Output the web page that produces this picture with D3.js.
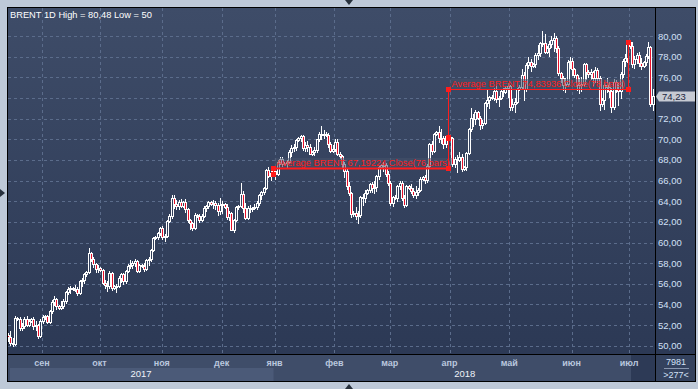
<!DOCTYPE html>
<html><head><meta charset="utf-8">
<script src="https://cdn.jsdelivr.net/npm/d3@7"></script>
<style>
html,body{margin:0;padding:0;background:#bec9d8;overflow:hidden;}
svg{display:block;}
text{font-family:"Liberation Sans",Arial,sans-serif;}
</style></head><body>
<svg id="c" width="698" height="389"></svg>
<script>
// ---------- data ----------
const startDate = "2017-08-15", endDate = "2018-07-12";
const holidays = ["2017-12-24","2017-12-25","2017-12-31","2018-01-01"];
const opens = [
51.0,50.8,50.3,50.2,52.7,52.6,51.7,51.9,52.6,52.0,52.4,52.6,51.9,52.0,50.9,
52.4,52.8,52.9,52.3,53.4,54.2,54.5,53.8,53.7,53.8,54.3,55.2,55.5,55.6,55.5,55.5,55.1,56.3,56.4,56.9,57.1,59.0,58.4,57.9,57.4,
57.5,57.3,56.1,55.9,55.8,57.0,55.6,55.8,55.8,56.6,56.9,56.3,57.2,57.7,57.8,58.0,58.2,57.2,57.8,57.7,57.4,58.3,58.4,59.3,60.4,60.5,60.9,
61.4,60.5,60.6,62.1,62.6,64.3,63.7,63.5,63.9,63.5,63.9,63.2,62.2,61.9,61.4,62.7,62.6,62.2,62.6,63.3,63.5,63.9,63.7,63.8,63.6,63.1,
63.6,63.7,63.4,62.5,62.9,61.2,62.2,63.4,63.5,64.7,63.3,62.4,63.3,63.2,63.3,63.4,63.8,64.6,64.9,65.3,67.0,66.4,66.7,
66.9,66.6,67.8,68.1,67.6,67.7,67.8,68.8,69.2,69.3,69.9,70.1,70.3,69.2,69.4,69.3,68.6,68.8,69.0,70.0,70.5,70.4,70.5,70.4,69.5,68.9,
69.1,69.7,68.6,68.4,67.6,66.9,65.5,64.8,62.8,62.9,62.6,62.7,64.4,64.3,64.8,65.1,65.7,65.3,65.4,66.4,67.3,67.5,67.5,66.6,
65.8,63.8,64.4,64.3,65.5,65.8,64.3,63.6,65.5,65.3,65.0,64.6,64.9,65.1,66.2,66.3,66.1,67.4,69.5,68.9,70.5,70.7,70.1,70.1,69.5,70.3,
70.2,70.1,67.6,68.1,68.0,68.3,67.1,67.3,68.7,71.0,72.1,72.0,72.6,72.1,71.4,71.6,73.5,73.8,74.1,74.0,74.7,73.9,74.0,74.7,74.6,75.0,
75.2,73.1,73.4,73.6,74.9,75.1,76.2,74.9,77.2,77.5,77.1,77.3,78.2,78.4,79.3,79.3,78.5,78.8,79.2,79.6,79.8,78.8,76.4,75.9,75.3,75.4,77.5,
77.6,76.8,76.2,75.3,75.4,75.4,77.3,76.5,76.3,76.5,75.9,76.7,75.9,73.4,73.8,75.3,75.1,74.7,73.1,75.6,74.9,74.7,76.3,77.6,77.9,
79.4,79.0,77.3,77.8,78.2,77.4,77.1,77.5,78.1,78.9,73.4];
const highs = [
51.2,51.4,50.7,52.9,52.8,52.8,52.2,52.8,52.9,52.6,52.7,52.8,52.4,52.1,52.6,
53.0,53.0,53.0,53.5,54.4,54.8,54.6,53.9,54.3,54.5,55.3,55.7,55.8,55.7,55.9,55.7,56.4,56.6,57.0,57.2,59.5,59.1,58.6,58.0,57.8,
57.6,57.4,56.4,56.3,57.2,57.1,55.9,56.0,56.8,57.0,57.0,57.3,57.9,58.3,58.2,58.4,58.3,57.9,57.9,58.0,58.4,58.6,59.4,60.5,60.6,61.0,61.5,
61.6,60.8,62.2,62.8,64.6,64.6,64.1,64.1,64.2,64.0,64.2,63.3,62.3,62.0,62.9,62.8,62.8,62.8,63.5,63.6,64.0,64.0,64.1,64.0,63.8,64.3,
64.0,63.8,63.7,63.1,63.0,62.3,63.5,63.6,65.8,65.0,63.8,63.5,63.6,63.4,63.7,64.0,64.7,65.0,65.4,67.1,67.3,66.9,67.0,
67.3,68.0,68.3,68.3,67.8,68.0,69.0,69.4,69.5,70.0,70.2,70.4,70.4,69.7,69.8,69.5,68.9,69.3,70.0,70.7,71.3,70.9,70.7,70.6,69.7,69.4,
70.0,70.0,68.8,68.5,67.8,67.2,65.9,64.9,63.1,63.4,63.1,64.5,64.7,65.1,65.2,65.8,65.9,66.0,66.5,67.4,67.6,67.8,67.7,66.9,
66.0,64.5,64.6,65.6,66.0,66.0,64.6,65.6,65.6,65.7,65.3,65.5,65.3,66.3,66.4,66.5,67.6,69.6,69.8,70.6,70.8,71.3,71.0,70.3,70.4,70.3,
70.3,70.2,68.3,68.5,68.8,68.6,67.4,68.8,71.1,73.0,72.5,72.8,72.7,72.3,71.9,73.6,74.8,74.2,74.3,75.0,75.2,74.2,74.9,75.0,75.2,75.5,
75.3,73.9,74.0,75.0,75.3,76.8,76.5,77.4,78.0,77.8,77.4,78.4,79.1,79.4,80.48,80.2,79.0,79.5,80.0,80.3,80.0,79.0,76.5,76.1,75.9,77.7,78.0,
77.9,76.9,76.3,75.9,76.0,77.4,77.4,76.7,76.8,76.6,77.0,76.9,76.1,74.0,75.6,75.9,75.6,75.0,75.8,75.7,75.5,76.5,77.8,78.3,79.6,
79.5,79.4,78.1,78.4,78.5,77.9,77.6,78.3,79.4,79.0,74.9];
const lows = [
50.5,50.1,50.0,50.1,52.5,51.5,51.5,51.7,51.9,51.9,52.3,51.6,51.5,50.7,50.8,
52.2,52.6,52.2,52.2,53.2,53.9,53.6,53.6,53.6,53.7,54.1,55.0,55.1,55.4,55.3,54.9,55.0,55.8,56.1,56.8,57.0,58.2,57.6,57.1,57.1,
57.2,56.0,55.6,55.3,55.6,55.4,55.5,55.2,55.7,56.2,56.0,56.1,57.1,57.5,57.5,57.7,57.1,57.1,57.6,57.2,57.3,57.8,58.2,59.2,60.3,60.3,60.7,
60.3,60.1,60.5,62.0,62.4,63.3,63.2,63.2,63.4,63.4,63.0,62.0,61.3,61.2,61.3,62.5,62.0,62.1,62.5,63.1,63.3,63.6,63.3,63.2,62.7,62.8,
62.9,63.3,62.3,62.2,61.2,61.0,62.1,63.2,63.4,63.0,62.3,62.3,63.0,63.1,63.2,63.2,63.6,64.2,64.7,65.2,66.3,66.1,66.5,
66.2,66.5,67.6,67.4,67.5,67.2,67.7,68.4,68.9,69.0,69.8,69.8,69.0,68.9,68.9,68.6,68.5,68.5,68.8,69.8,70.0,70.1,70.3,69.3,68.8,68.8,
68.9,68.5,68.2,67.3,66.3,65.2,64.6,62.5,62.6,62.3,61.9,62.5,63.6,63.9,64.7,64.9,64.9,64.8,65.0,66.2,67.2,66.9,66.4,65.6,
63.6,63.5,64.2,64.0,65.2,64.1,63.4,63.5,65.2,64.8,64.4,64.3,64.6,65.0,66.1,65.8,65.9,67.2,68.6,68.8,70.4,69.7,69.6,69.2,69.3,70.2,
70.0,67.4,67.3,66.8,67.9,66.9,67.0,67.0,68.6,70.8,71.3,71.5,72.0,71.0,71.1,71.5,73.2,73.0,73.9,73.8,73.6,73.2,73.9,74.2,74.5,74.1,
72.8,72.8,72.6,73.5,74.8,74.9,73.8,74.7,76.9,76.6,77.0,77.0,77.8,78.1,79.0,78.4,78.4,78.1,78.9,78.6,78.5,76.2,75.6,74.8,74.6,75.2,76.9,
76.2,76.0,74.8,74.5,74.7,75.2,75.8,76.0,75.8,75.3,75.6,75.6,72.8,73.2,72.9,74.6,74.1,72.6,72.9,74.6,73.3,74.0,76.0,77.1,77.5,
78.8,77.0,76.9,77.4,77.1,76.8,77.0,77.2,77.9,73.2,72.8];
const closes = [
50.8,50.3,50.2,52.7,52.6,51.7,51.9,52.6,52.0,52.4,52.6,51.9,52.0,50.9,52.4,
52.8,52.9,52.3,53.4,54.2,54.5,53.8,53.7,53.8,54.3,55.2,55.5,55.6,55.5,55.5,55.1,56.3,56.4,56.9,57.1,59.0,58.4,57.9,57.4,57.5,
57.3,56.1,55.9,55.8,57.0,55.6,55.8,55.8,56.6,56.9,56.3,57.2,57.7,57.8,58.0,58.2,57.2,57.8,57.7,57.4,58.3,58.4,59.3,60.4,60.5,60.9,61.4,
60.5,60.6,62.1,62.6,64.3,63.7,63.5,63.9,63.5,63.9,63.2,62.2,61.9,61.4,62.7,62.6,62.2,62.6,63.3,63.5,63.9,63.7,63.8,63.6,63.1,63.6,
63.7,63.4,62.5,62.9,61.2,62.2,63.4,63.5,64.7,63.3,62.4,63.3,63.2,63.3,63.4,63.8,64.6,64.9,65.3,67.0,66.4,66.7,66.9,
66.6,67.8,68.1,67.6,67.7,67.8,68.8,69.2,69.3,69.9,70.1,70.3,69.2,69.4,69.3,68.6,68.8,69.0,70.0,70.5,70.4,70.5,70.4,69.5,68.9,69.1,
69.7,68.6,68.4,67.6,66.9,65.5,64.8,62.8,62.9,62.6,62.7,64.4,64.3,64.8,65.1,65.7,65.3,65.4,66.4,67.3,67.5,67.5,66.6,65.8,
63.8,64.4,64.3,65.5,65.8,64.3,63.6,65.5,65.3,65.0,64.6,64.9,65.1,66.2,66.3,66.1,67.4,69.5,68.9,70.5,70.7,70.1,70.1,69.5,70.3,70.2,
70.1,67.6,68.1,68.0,68.3,67.1,67.3,68.7,71.0,72.1,72.0,72.6,72.1,71.4,71.6,73.5,73.8,74.1,74.0,74.7,73.9,74.0,74.7,74.6,75.0,75.2,
73.1,73.4,73.6,74.9,75.1,76.2,74.9,77.2,77.5,77.1,77.3,78.2,78.4,79.3,79.3,78.5,78.8,79.2,79.6,79.8,78.8,76.4,75.9,75.3,75.4,77.5,77.6,
76.8,76.2,75.3,75.4,75.4,77.3,76.5,76.3,76.5,75.9,76.7,75.9,73.4,73.8,75.3,75.1,74.7,73.1,75.6,74.9,74.7,76.3,77.6,77.9,79.4,
79.0,77.3,77.8,78.2,77.4,77.1,77.5,78.1,78.9,73.4,74.23];
const yTicks = [50,52,54,56,58,60,62,64,66,68,70,72,74,76,78,80];
const monthNames = ["янв","фев","мар","апр","май","июн","июл","авг","сен","окт","ноя","дек"];
const avgValues = [67.19224, 74.83936];
const avgBars = [76, 78];
const avgStartDates = ["2018-01-02", "2018-04-01"];
const avgEndDates = ["2018-03-30", "2018-06-29"];
const titleText = "BRENT 1D High = 80,48 Low = 50";
const lastPrice = 74.23;
const cornerTop = "7981", cornerBottom = ">277<";

// ---------- build ----------
const fmtDay = d3.utcFormat("%Y-%m-%d");
const dates = [];
for (let d = new Date(startDate + "T00:00:00Z"); d <= new Date(endDate + "T00:00:00Z"); d = d3.utcDay.offset(d, 1)) {
  if (d.getUTCDay() === 6) continue;
  if (holidays.includes(fmtDay(d))) continue;
  dates.push(fmtDay(d));
}
const N = Math.min(dates.length, opens.length, highs.length, lows.length, closes.length);
const comma = v => d3.format(".2f")(v).replace(".", ",");

const svg = d3.select("#c");
const W = 698, H = 389;
const PL = 8, PR = 655, PT = 8, PB = 354;

const defs = svg.append("defs");
const g1 = defs.append("linearGradient").attr("id", "bg").attr("gradientUnits", "userSpaceOnUse")
  .attr("x1", 0).attr("y1", PT).attr("x2", 0).attr("y2", PB);
g1.append("stop").attr("offset", 0).attr("stop-color", "#3e4c68");
g1.append("stop").attr("offset", 1).attr("stop-color", "#2c3955");
defs.append("clipPath").attr("id", "clip").append("rect").attr("x", PL).attr("y", PT).attr("width", PR - PL).attr("height", PB - PT);

// outer chrome
svg.append("rect").attr("width", W).attr("height", H).attr("fill", "#bec9d8");
svg.append("rect").attr("x", 7).attr("y", 7).attr("width", 689).attr("height", 375).attr("fill", "#000");
svg.append("rect").attr("x", PL).attr("y", PT).attr("width", PR - PL).attr("height", PB - PT).attr("fill", "url(#bg)");
svg.append("rect").attr("x", PR + 1).attr("y", PT).attr("width", 695 - PR - 1).attr("height", PB - PT).attr("fill", "url(#bg)");
// bottom axis panel
svg.append("rect").attr("x", PL).attr("y", PB + 1).attr("width", PR - PL).attr("height", 26).attr("fill", "#3f4d69");
svg.append("rect").attr("x", PR + 1).attr("y", PB + 1).attr("width", 695 - PR - 1).attr("height", 26).attr("fill", "#34425e");

const x = d3.scaleBand().domain(d3.range(N)).range([7.5, 654.4]).padding(0);
const bw = x.bandwidth();
const y = d3.scaleLinear().domain([50, 80]).range([345.7, 36.1]);

// month ticks
const monthIdx = [];
for (let i = 1; i < N; i++) if (dates[i].slice(5, 7) !== dates[i - 1].slice(5, 7)) monthIdx.push(i);
const janIdx = monthIdx.find(i => dates[i].slice(5, 7) === "01");
const lastMonthIdx = monthIdx[monthIdx.length - 1];

// year bands
svg.append("rect").attr("x", x(0) + 2.5).attr("y", 368).attr("width", x(janIdx) - x(0) - 3.5).attr("height", 13).attr("fill", "#4b5a78");
svg.append("rect").attr("x", Math.round(x(lastMonthIdx)) + 2).attr("y", PB + 1).attr("width", PR - Math.round(x(lastMonthIdx)) - 2).attr("height", 26).attr("fill", "#2d3a56");

// gridlines
const grid = svg.append("g").attr("stroke", "#5b6c8b").attr("stroke-width", 1).attr("stroke-dasharray", "3,3").attr("shape-rendering", "crispEdges");
grid.selectAll(".h").data(yTicks).join("line")
  .attr("x1", PL).attr("x2", PR).attr("y1", d => Math.round(y(d)) + 0.5).attr("y2", d => Math.round(y(d)) + 0.5);
grid.selectAll(".v").data(monthIdx).join("line")
  .attr("x1", d => Math.round(x(d)) + 0.5).attr("x2", d => Math.round(x(d)) + 0.5).attr("y1", PT).attr("y2", PB);

// candles
const cg = svg.append("g").attr("clip-path", "url(#clip)").attr("shape-rendering", "crispEdges");
const idx = d3.range(N);
const cxOf = i => Math.floor(x(i) + bw / 2);
cg.selectAll(".wick").data(idx).join("line")
  .attr("x1", i => cxOf(i) + 0.5).attr("x2", i => cxOf(i) + 0.5)
  .attr("y1", i => Math.round(y(Math.max(highs[i], opens[i], closes[i]))))
  .attr("y2", i => Math.round(y(Math.min(lows[i], opens[i], closes[i]))) + 1)
  .attr("stroke", "#fff").attr("stroke-width", 1);
cg.selectAll(".body").data(idx).join("rect")
  .attr("x", i => cxOf(i) - 0.5)
  .attr("y", i => Math.round(y(Math.max(opens[i], closes[i]))) + 0.5)
  .attr("width", 2)
  .attr("height", i => Math.max(1, Math.round(y(Math.min(opens[i], closes[i]))) - Math.round(y(Math.max(opens[i], closes[i])))))
  .attr("fill", i => closes[i] < opens[i] ? "#e8102a" : "url(#bg)")
  .attr("stroke", "#fff").attr("stroke-width", 1);

// averages
const red = "#ff1c1c";
const ag = svg.append("g").attr("clip-path", "url(#clip)");
avgValues.forEach((v, k) => {
  const si = dates.indexOf(avgStartDates[k]), ei = dates.indexOf(avgEndDates[k]);
  const xs = Math.round(x(si) - 1.5) + 0.5, xe = Math.round(x(ei) + bw / 2) + 0.5;
  const ya = Math.round(y(v)) + 0.5;
  const ys = Math.round(y(closes[si])) + 0.5, ye = Math.round(y(closes[ei])) + 0.5;
  const label = "Average BRENT " + d3.format(".5f")(v).replace(".", ",") + " Close(" + avgBars[k] + " bars)";
  const t = ag.append("text").attr("x", xs + 3).attr("y", ya - 2.5).attr("font-size", "9.3px").text(label);
  const bb = t.node().getBBox();
  ag.insert("rect", "text").attr("x", bb.x - 2).attr("y", bb.y).attr("width", bb.width + 4).attr("height", bb.height)
    .attr("fill", "rgba(70,82,106,0.55)");
  t.attr("fill", red);
  ag.append("line").attr("x1", xs).attr("x2", xe).attr("y1", ya).attr("y2", ya).attr("stroke", red).attr("stroke-width", k === 0 ? 2 : 1);
  ag.append("line").attr("x1", xs).attr("x2", xs).attr("y1", ya).attr("y2", ys).attr("stroke", red).attr("stroke-width", 1);
  ag.append("line").attr("x1", xe).attr("x2", xe).attr("y1", ya).attr("y2", ye).attr("stroke", red).attr("stroke-width", 1);
  [[xs, ya], [xe, ya], [xs, ys], [xe, ye]].forEach(p => {
    ag.append("rect").attr("x", p[0] - 2.5).attr("y", p[1] - 2.5).attr("width", 5).attr("height", 5).attr("fill", red);
  });
});

// black separators
svg.append("line").attr("x1", 7).attr("x2", 696).attr("y1", PB + 0.5).attr("y2", PB + 0.5).attr("stroke", "#000");
svg.append("line").attr("x1", PR + 0.5).attr("x2", PR + 0.5).attr("y1", 7).attr("y2", 382).attr("stroke", "#000");

// y axis labels (the one hidden under the last-price tag is skipped)
const yp = Math.round(y(lastPrice)) + 0.5;
svg.append("g").selectAll("text").data(yTicks.filter(d => Math.abs(y(d) - yp) > 9)).join("text")
  .attr("x", 658).attr("y", d => y(d) + 3.5).attr("font-size", "9.5px").attr("fill", "#d2e0f6").text(d => comma(d));

// price tag
svg.append("path").attr("d", `M${PR + 1},${yp} L${PR + 4},${yp - 5} L695,${yp - 5} L695,${yp + 5} L${PR + 4},${yp + 5} Z`).attr("fill", "#c6cad3");
svg.append("text").attr("x", 662).attr("y", yp + 3.5).attr("font-size", "9.5px").attr("fill", "#1c2640").text(comma(lastPrice));

// month labels
svg.append("g").selectAll("text").data(monthIdx).join("text")
  .attr("x", d => x(d)).attr("y", 366).attr("text-anchor", "middle").attr("font-size", "9px").attr("font-weight", "bold")
  .attr("fill", "#b9c7de").text(d => monthNames[+dates[d].slice(5, 7) - 1]);
// year labels
svg.append("text").attr("x", (x(0) + x(janIdx)) / 2).attr("y", 377).attr("text-anchor", "middle").attr("font-size", "9.5px").attr("fill", "#eef2f8").text(dates[0].slice(0, 4));
svg.append("text").attr("x", (x(janIdx) + PR) / 2).attr("y", 377).attr("text-anchor", "middle").attr("font-size", "9.5px").attr("fill", "#eef2f8").text(dates[N - 1].slice(0, 4));

// corner
svg.append("text").attr("x", 676).attr("y", 365).attr("text-anchor", "middle").attr("font-size", "9px").attr("fill", "#d2e0f6").text(cornerTop);
svg.append("line").attr("x1", 664).attr("x2", 689).attr("y1", 368.5).attr("y2", 368.5).attr("stroke", "#8896ae");
svg.append("text").attr("x", 676).attr("y", 378).attr("text-anchor", "middle").attr("font-size", "9px").attr("fill", "#d2e0f6").text(cornerBottom);

// title
svg.append("text").attr("x", 10).attr("y", 18).attr("font-size", "9.3px").attr("fill", "#ffffff").text(titleText);

// small arrows on frame
const tri = "#27303c";
svg.append("path").attr("d", "M345,0 L353,0 L349,5 Z").attr("fill", tri);
svg.append("path").attr("d", "M345,389 L353,389 L349,384 Z").attr("fill", tri);
svg.append("path").attr("d", "M0,189 L0,197 L5,193 Z").attr("fill", tri);

// data sanity debug (only shows when arrays disagree)
if (![opens, highs, lows, closes].every(a => a.length === dates.length)) {
  svg.append("text").attr("x", 200).attr("y", 30).attr("fill", "yellow").attr("font-size", "11px")
    .text(`dates ${dates.length} o ${opens.length} h ${highs.length} l ${lows.length} c ${closes.length}`);
}
</script>
</body></html>
